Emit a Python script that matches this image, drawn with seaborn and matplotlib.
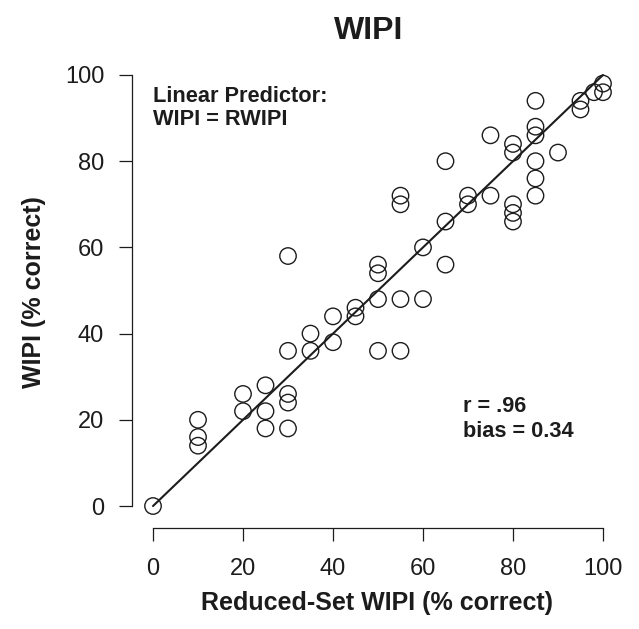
import matplotlib
matplotlib.use("Agg")
import matplotlib.pyplot as plt
import seaborn as sns
import pandas as pd

rwipi = [0, 10, 10, 10, 20, 20, 25, 25, 25, 30, 30, 30, 30, 30,
         35, 35, 40, 40, 45, 45, 50, 50, 50, 50, 55, 55, 55, 55,
         60, 60, 65, 65, 65, 70, 70, 75, 75, 80, 80, 80, 80, 80,
         85, 85, 85, 85, 85, 85, 90, 95, 95, 98, 100, 100]
wipi = [0, 20, 16, 14, 26, 22, 28, 22, 18, 58, 36, 26, 24, 18,
        40, 36, 44, 38, 46, 44, 56, 54, 48, 36, 72, 70, 48, 36,
        60, 48, 80, 66, 56, 72, 70, 86, 72, 84, 82, 70, 68, 66,
        94, 88, 86, 80, 76, 72, 82, 94, 92, 96, 98, 96]
line_x = [0, 100]
line_y = [0, 100]
ticks = [0, 20, 40, 60, 80, 100]

df = pd.DataFrame({"RWIPI": rwipi, "WIPI": wipi})

sns.set_style("white")
plt.rcParams["font.family"] = ["Liberation Sans", "DejaVu Sans"]
ink = "#1c1c1c"

W, H = 639, 629
fig = plt.figure(figsize=(W/100, H/100), dpi=100)
ax = fig.add_axes([132/W, 1-528/H, (624-132)/W, (528-53)/H])

ax.plot(line_x, line_y, color=ink, lw=1.5, zorder=1)
sns.scatterplot(data=df, x="RWIPI", y="WIPI", ax=ax, s=140, marker="o",
                facecolor="none", edgecolor=ink, linewidth=1.0, zorder=2)

ax.set_xlim(-4.67, 104.67)
ax.set_ylim(-5.1, 105.1)
ax.set_xticks(ticks)
ax.set_yticks(ticks)
ax.tick_params(axis="both", direction="out", length=9.5, width=0.9, labelsize=17,
               color=ink, labelcolor=ink, bottom=True, left=True)
ax.tick_params(axis="x", pad=12)
ax.tick_params(axis="y", pad=10.5)
for s in ["top", "right"]:
    ax.spines[s].set_visible(False)
for s in ["left", "bottom"]:
    ax.spines[s].set_bounds(0, 100)
    ax.spines[s].set_linewidth(0.9)
    ax.spines[s].set_color(ink)

ax.set_xlabel("")
ax.set_ylabel("")
fig.text(377/W, 1-610/H, "Reduced-Set WIPI (% correct)", fontsize=18, fontweight="bold",
         ha="center", va="baseline", color=ink)
fig.text(34/W, 1-292/H, "WIPI (% correct)", fontsize=18, fontweight="bold",
         rotation=90, ha="center", va="center", color=ink)
fig.text(368.5/W, 1-39/H, "WIPI", fontsize=23, fontweight="bold",
         ha="center", va="baseline", color=ink)

ax.text(0, 93.7, "Linear Predictor:", fontsize=15.7, fontweight="bold",
        ha="left", va="baseline", color=ink)
ax.text(0, 88.4, "WIPI = RWIPI", fontsize=15.7, fontweight="bold",
        ha="left", va="baseline", color=ink)
ax.text(68.9, 21.8, "r = .96", fontsize=15.7, fontweight="bold",
        ha="left", va="baseline", color=ink)
ax.text(68.9, 16.0, "bias = 0.34", fontsize=15.7, fontweight="bold",
        ha="left", va="baseline", color=ink)

fig.savefig("out.png", dpi=100)
